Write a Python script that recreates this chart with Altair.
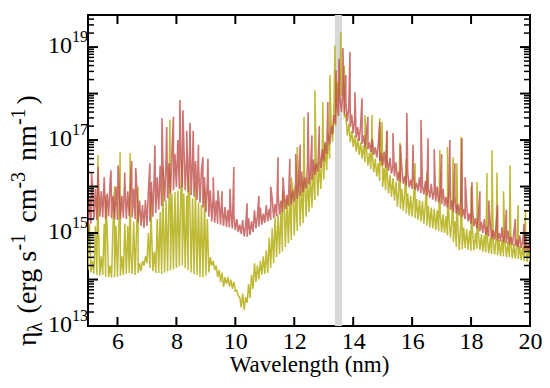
import altair as alt
import pandas as pd
import numpy as np

# Sampling grid (nm): lower-envelope samples and upper-envelope samples interleave
WL_LO = [round(5.0 + 0.1 * i, 2) for i in range(151)]
WL_HI = [round(5.05 + 0.1 * i, 2) for i in range(150)]

# ---- Red series (log10 of eta) ----
RED_LO = [
    15.10, 15.20, 15.30, 15.28, 15.35, 15.34, 15.30, 15.36, 15.32, 15.30,
    15.28, 15.30, 15.33, 15.30, 15.36, 15.34, 15.30, 15.22, 15.15, 15.11,
    15.15, 15.25, 15.35, 15.43, 15.50, 15.58, 15.68, 15.75, 15.85, 15.92,
    15.99, 15.95, 15.98, 15.92, 15.88, 15.82, 15.78, 15.71, 15.65, 15.55,
    15.45, 15.35, 15.25, 15.22, 15.20, 15.18, 15.15, 15.13, 15.12, 15.10,
    15.06, 15.02, 14.98, 14.93, 14.92, 14.96, 15.02, 15.10, 15.14, 15.18,
    15.22, 15.25, 15.28, 15.32, 15.36, 15.40, 15.46, 15.52, 15.58, 15.62,
    15.68, 15.74, 15.80, 15.88, 15.96, 16.05, 16.14, 16.25, 16.32, 16.40,
    16.55, 16.70, 16.90, 17.12, 17.35, 17.52, 17.60, 17.55, 17.40, 17.28,
    17.15, 17.05, 16.98, 16.92, 16.86, 16.80, 16.74, 16.68, 16.62, 16.55,
    16.45, 16.40, 16.34, 16.28, 16.22, 16.12, 16.10, 16.06, 16.02, 15.98,
    15.95, 15.93, 15.90, 15.86, 15.83, 15.80, 15.76, 15.72, 15.68, 15.66,
    15.62, 15.58, 15.55, 15.50, 15.45, 15.42, 15.38, 15.34, 15.30, 15.25,
    15.20, 15.15, 15.10, 15.04, 15.00, 14.96, 14.92, 14.88, 14.86, 14.84,
    14.82, 14.80, 14.78, 14.76, 14.74, 14.72, 14.70, 14.68, 14.64, 14.62,
    14.60,
]
RED_HI = [
    15.75, 16.05, 15.95, 16.25, 15.90, 16.20, 15.85, 16.10, 15.80, 16.00,
    16.07, 15.80, 16.15, 15.90, 16.20, 15.95, 16.05, 15.70, 15.60, 15.71,
    15.90, 16.10, 16.30, 16.20, 16.45, 16.35, 16.63, 16.50, 16.80, 16.70,
    17.00, 16.80, 16.95, 16.70, 16.85, 16.60, 16.55, 16.50, 16.35, 16.20,
    16.10, 15.92, 15.80, 15.70, 15.65, 15.60, 15.56, 15.50, 15.45, 15.40,
    15.30, 15.18, 15.28, 15.15, 15.32, 15.25, 15.49, 15.38, 15.55, 15.42,
    15.60, 15.52, 15.75, 15.62, 15.85, 15.70, 15.90, 15.82, 16.05, 15.92,
    16.15, 16.05, 16.32, 16.20, 16.45, 16.35, 16.58, 16.50, 16.75, 16.80,
    16.96, 17.10, 17.30, 17.54, 17.75, 17.90, 18.03, 17.85, 17.69, 17.55,
    17.45, 17.28, 17.30, 17.10, 17.15, 16.95, 17.02, 16.85, 16.90, 16.72,
    16.75, 16.58, 16.62, 16.45, 16.52, 16.32, 16.40, 16.22, 16.30, 16.15,
    16.25, 16.08, 16.20, 16.02, 16.12, 15.96, 16.06, 15.90, 16.00, 15.84,
    15.95, 15.78, 15.88, 15.70, 15.80, 15.62, 15.72, 15.52, 15.60, 15.42,
    15.50, 15.32, 15.40, 15.24, 15.30, 15.14, 15.22, 15.06, 15.16, 15.00,
    15.12, 14.96, 15.05, 14.92, 15.00, 14.86, 14.95, 14.82, 14.90, 14.78,
]
RED_SPIKE_WL = [
    5.12, 5.34, 5.55, 5.78, 6.02, 6.25, 6.48, 6.62, 7.10, 7.27, 7.51, 7.67,
    7.90, 8.12, 8.22, 8.35, 8.46, 8.57, 8.75, 8.90, 9.07, 9.25, 9.41, 9.55,
    9.82, 9.95, 10.40, 10.80, 11.20, 11.45, 11.62, 11.85, 12.05, 12.20,
    12.47, 12.60, 12.85, 13.14, 13.42, 13.52, 13.65, 13.75, 13.89, 14.06,
    14.30, 14.50, 14.90, 15.15, 15.35, 15.60, 15.82, 16.03, 16.30, 16.54,
    16.75, 17.00, 17.28, 17.45, 17.69, 17.80, 18.03, 18.30, 18.60, 18.90,
    19.20, 19.50, 19.80,
]
RED_SPIKE_LOG = [
    16.30, 16.42, 16.20, 16.35, 16.45, 16.30, 16.55, 16.40, 16.50, 16.89, 17.47, 17.28,
    17.50, 17.86, 17.64, 17.20, 17.37, 17.20, 16.90, 16.63, 16.60, 16.20, 15.92, 15.90,
    15.95, 16.42, 15.64, 15.80, 16.00, 16.63, 16.20, 16.60, 16.70, 16.90,
    17.60, 17.10, 17.30, 17.82, 18.50, 18.75, 18.98, 18.40, 18.90, 18.03,
    17.90, 17.50, 17.39, 17.20, 17.15, 16.90, 17.58, 16.90, 17.43, 17.04,
    16.80, 16.70, 17.00, 16.50, 17.04, 16.20, 16.10, 15.90, 15.70, 15.60,
    15.50, 15.30, 15.20,
]

# ---- Olive series (log10 of eta) ----
OLV_LO = [
    14.20, 14.15, 14.12, 14.10, 14.08, 14.10, 14.06, 14.05, 14.04, 14.05,
    14.06, 14.08, 14.10, 14.12, 14.14, 14.12, 14.10, 14.14, 14.18, 14.30,
    14.35, 14.25, 14.18, 14.14, 14.14, 14.12, 14.15, 14.18, 14.20, 14.22,
    14.25, 14.28, 14.30, 14.25, 14.20, 14.15, 14.12, 14.10, 14.05, 14.05,
    14.08, 14.15, 14.30, 14.20, 14.05, 13.95, 13.84, 13.90, 13.85, 13.80,
    13.75, 13.65, 13.40, 13.35, 13.50, 13.60, 13.80, 13.95, 14.00, 14.10,
    14.12, 14.14, 14.25, 14.35, 14.48, 14.55, 14.60, 14.70, 14.78, 14.85,
    14.95, 15.05, 15.15, 15.21, 15.35, 15.45, 15.55, 15.71, 15.80, 15.95,
    16.15, 16.35, 16.60, 16.96, 17.30, 17.82, 17.97, 17.50, 17.10, 16.95,
    16.85, 16.75, 16.68, 16.60, 16.52, 16.45, 16.38, 16.31, 16.22, 16.12,
    15.99, 15.92, 15.85, 15.78, 15.70, 15.56, 15.52, 15.48, 15.42, 15.38,
    15.35, 15.32, 15.28, 15.25, 15.20, 15.16, 15.12, 15.10, 15.06, 15.04,
    15.02, 15.00, 14.95, 14.90, 14.80, 14.70, 14.63, 14.65, 14.68, 14.64,
    14.62, 14.63, 14.66, 14.63, 14.60, 14.58, 14.56, 14.55, 14.54, 14.52,
    14.50, 14.50, 14.48, 14.48, 14.46, 14.45, 14.44, 14.42, 14.40, 14.38,
    14.38,
]
OLV_HI = [
    15.20, 14.40, 15.15, 15.25, 14.50, 15.20, 15.10, 14.30, 15.20, 15.15,
    15.25, 14.50, 15.20, 15.15, 14.60, 15.25, 15.10, 14.35, 14.40, 14.50,
    15.00, 15.20, 14.60, 15.30, 15.45, 15.60, 15.70, 15.80, 15.85, 15.88,
    15.92, 15.90, 15.85, 15.80, 15.82, 15.75, 15.70, 15.65, 15.60, 15.50,
    15.30, 14.48, 14.40, 14.30, 14.20, 14.15, 14.05, 14.05, 14.00, 13.95,
    13.77, 13.62, 13.70, 13.62, 13.90, 14.10, 14.35, 14.30, 14.40, 14.50,
    14.63, 14.90, 15.10, 15.34, 15.40, 15.50, 15.71, 15.75, 15.85, 15.95,
    16.00, 16.07, 16.10, 16.15, 16.20, 16.30, 16.42, 16.45, 16.55, 16.68,
    16.90, 17.15, 17.39, 17.80, 18.25, 18.40, 18.00, 17.54, 17.35, 17.20,
    17.10, 17.04, 16.95, 16.88, 16.80, 16.72, 16.68, 16.60, 16.50, 16.45,
    16.40, 16.32, 16.25, 16.18, 16.10, 15.99, 15.95, 15.90, 15.85, 15.80,
    15.76, 15.73, 15.71, 15.68, 15.62, 15.58, 15.55, 15.52, 15.49, 15.45,
    15.40, 15.36, 15.32, 15.28, 15.25, 15.22, 15.18, 15.12, 15.08, 15.05,
    15.02, 15.00, 15.00, 14.98, 14.95, 14.92, 14.90, 14.88, 14.86, 14.85,
    14.85, 14.82, 14.80, 14.78, 14.76, 14.74, 14.72, 14.70, 14.70, 14.68,
]
OLV_SPIKE_WL = [
    5.34, 5.60, 5.90, 6.09, 6.43, 6.70, 7.15, 7.55, 7.78, 8.19, 8.40, 8.65,
    8.95, 11.60, 11.90, 12.10, 12.33, 12.70, 12.97, 13.21, 13.38, 13.58,
    13.70, 14.40, 14.64, 14.90, 14.98, 15.14, 15.59, 15.80, 16.10, 16.50,
    16.94, 17.20, 17.39, 17.52, 17.66, 18.00, 18.20, 18.54, 18.71, 18.88,
    19.10, 19.32, 19.60, 19.85,
]
OLV_SPIKE_LOG = [
    16.68, 15.80, 16.00, 16.74, 16.72, 16.00, 15.90, 16.42, 17.43, 16.60, 16.30, 16.10,
    16.00, 15.90, 16.20, 16.85, 17.50, 18.07, 17.82, 18.40, 19.04, 19.32,
    18.60, 17.54, 17.54, 17.47, 17.39, 17.20, 16.94, 16.60, 16.50, 16.30,
    16.78, 16.85, 16.63, 16.50, 17.07, 16.00, 16.10, 16.29, 16.78, 16.30,
    15.90, 16.46, 15.60, 15.50,
]

BAND = [13.38, 13.62]
X_TICKS = [6, 8, 10, 12, 14, 16, 18, 20]
Y_LABEL_EXP = [13, 15, 17, 19]
Y_MAJOR_EXP = [13, 14, 15, 16, 17, 18, 19]
Y_TOP = 4.9e19

W, H = 442, 311
FONT = "Liberation Serif"


def series_frame(lo, hi, sw, sv):
    assert len(lo) == len(WL_LO) and len(hi) == len(WL_HI) and len(sw) == len(sv)
    xs = WL_LO + WL_HI + sw
    ls = lo + hi + sv
    df = pd.DataFrame({"wl": xs, "lg": ls})
    df["eta"] = 10.0 ** df["lg"]
    return df.sort_values("wl").reset_index(drop=True)


red_df = series_frame(RED_LO, RED_HI, RED_SPIKE_WL, RED_SPIKE_LOG)
olv_df = series_frame(OLV_LO, OLV_HI, OLV_SPIKE_WL, OLV_SPIKE_LOG)

xscale = alt.Scale(domain=[5, 20], nice=False, zero=False)
yscale = alt.Scale(type="log", domain=[1e13, Y_TOP], nice=False)

x_axis = alt.Axis(
    values=X_TICKS, ticks=False, domain=False, grid=False,
    labelFont=FONT, labelFontSize=24, labelColor="black", labelPadding=3,
    labelFlush=False, labelOverlap=False,
    title="Wavelength (nm)", titleFont=FONT, titleFontSize=23,
    titleFontWeight="normal", titleColor="black", titlePadding=0,
)


def X(field):
    return alt.X(field, type="quantitative", scale=xscale, axis=x_axis)


def Y(field):
    return alt.Y(field, type="quantitative", scale=yscale, axis=None)


band = alt.Chart(pd.DataFrame({"a": [BAND[0]], "b": [BAND[1]]})).mark_rect(
    color="#d9d9d9"
).encode(x=X("a"), x2="b", y=alt.value(0), y2=alt.value(H))

olive = alt.Chart(olv_df).mark_line(
    color="#bcb62a", strokeWidth=1.5, opacity=0.95, clip=True
).encode(x=X("wl"), y=Y("eta"))

red = alt.Chart(red_df).mark_line(
    color="#c0504d", strokeWidth=1.6, opacity=0.8, clip=True
).encode(x=X("wl"), y=Y("eta"))

# inward ticks
xt = pd.DataFrame({"t": [v for v in X_TICKS if v < 20]})
xt_bot = alt.Chart(xt).mark_rule(color="black", strokeWidth=2).encode(
    x=X("t"), y=alt.value(H), y2=alt.value(H - 9))
xt_top = alt.Chart(xt).mark_rule(color="black", strokeWidth=2).encode(
    x=X("t"), y=alt.value(0), y2=alt.value(9))

ymaj = pd.DataFrame({"v": [10.0 ** e for e in Y_MAJOR_EXP]})
ymin_vals = []
for e in Y_MAJOR_EXP:
    for k in range(2, 10):
        v = k * 10.0 ** e
        if v < Y_TOP:
            ymin_vals.append(v)
ymin = pd.DataFrame({"v": ymin_vals})


def ytick(df, x0, x1, sw):
    return alt.Chart(df).mark_rule(color="black", strokeWidth=sw).encode(
        y=Y("v"), x=alt.value(x0), x2=alt.value(x1))


yt = [
    ytick(ymaj, 0, 10, 2), ytick(ymaj, W, W - 10, 2),
    ytick(ymin, 0, 6, 1.5), ytick(ymin, W, W - 6, 1.5),
]

ylab = pd.DataFrame({
    "v": [10.0 ** e for e in Y_LABEL_EXP],
    "base": ["10"] * len(Y_LABEL_EXP),
    "exp": [str(e) for e in Y_LABEL_EXP],
})
ylab_base = alt.Chart(ylab).mark_text(
    font=FONT, fontSize=24, align="right", baseline="middle", color="black", dy=-1
).encode(y=Y("v"), x=alt.value(-16), text="base:N")
ylab_exp = alt.Chart(ylab).mark_text(
    font=FONT, fontSize=16, align="left", baseline="middle", color="black", dy=-10
).encode(y=Y("v"), x=alt.value(-16), text="exp:N")

# ---- rotated y title built from pieces (Times metrics, per-mille em) ----
ADV = {"(": 333, ")": 333, "e": 444, "r": 333, "g": 500, " ": 250, "s": 389,
       "c": 444, "m": 778, "n": 500, "-": 333, "1": 500, "3": 500,
       "\u03b7": 500, "\u03bb": 480}


def text_width(t, size):
    return sum(ADV.get(ch, 500) for ch in t) * size / 1000.0


NORMAL, SUP = 28, 20
X_MID = -60
pieces = [  # (text, size, x-offset (negative = raised), gap after)
    ("\u03b7", 28, 0, 0),
    ("\u03bb", SUP, 8, 9),
    ("(erg s", NORMAL, 0, 0),
    ("-1", SUP, -9, 11),
    ("cm", NORMAL, 0, 0),
    ("-3", SUP, -9, 11),
    ("nm", NORMAL, 0, 0),
    ("-1", SUP, -9, 4),
    (")", NORMAL, 0, 0),
]
rows = []
pos = 331.0  # plot-y where the rotated title starts (bottom end)
for t, size, dx, gap in pieces:
    rows.append({"t": t, "size": size, "x": X_MID + dx, "y": pos})
    pos -= text_width(t, size) + gap

title_layers = []
for r in rows:
    title_layers.append(
        alt.Chart(pd.DataFrame({"t": [r["t"]]})).mark_text(
            font=FONT, fontSize=r["size"], angle=270, align="left",
            baseline="middle", color="black"
        ).encode(x=alt.value(r["x"]), y=alt.value(r["y"]), text="t:N")
    )

chart = alt.layer(
    band, olive, red, xt_bot, xt_top, *yt, ylab_base, ylab_exp, *title_layers,
).properties(
    width=W, height=H,
    autosize=alt.AutoSizeParams(type="none"),
    padding={"left": 80, "top": 7, "right": 12, "bottom": 57},
    background="white",
).configure_view(
    stroke="black", strokeWidth=2
)

chart.save("out.html", embed_options={"renderer": "svg", "actions": False})
